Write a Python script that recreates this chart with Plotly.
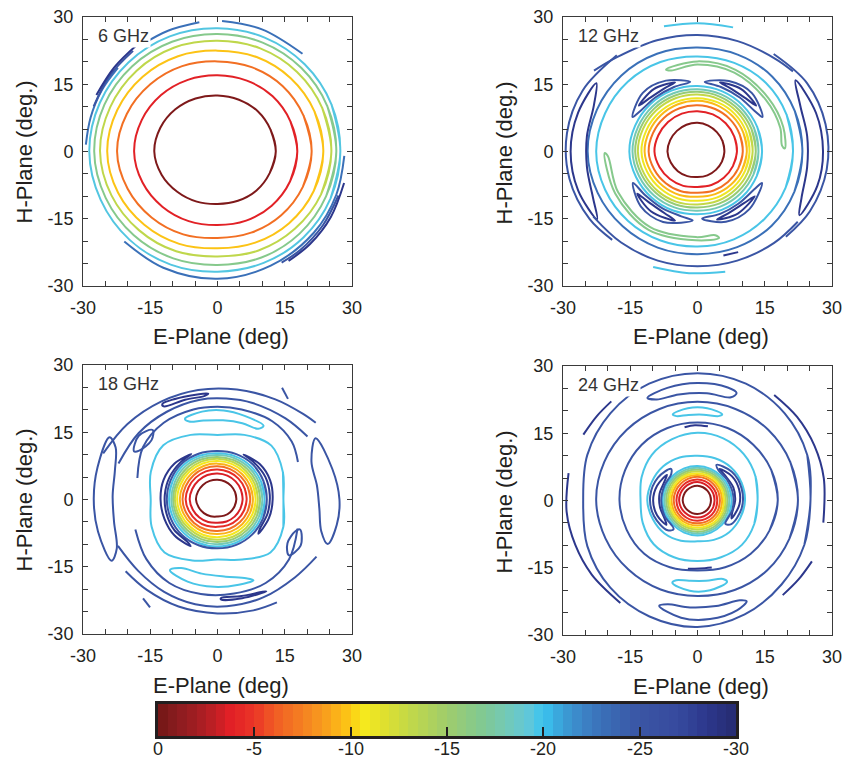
import numpy as np
import plotly.graph_objects as go

# ---------------- colour scale (dB -> colour) ----------------
CS_DB = [0, -1, -2, -3, -3.7, -5, -6, -7, -8, -9, -10, -10.6, -11.5, -13, -15, -17, -18,
         -19.2, -20, -21, -22, -23, -25, -27, -28.5, -30]
CS_HEX = ['#721616', '#8a1c1f', '#a21d22', '#c21f25', '#e11f26', '#eb3527', '#f05a24', '#f37423',
          '#f68d20', '#faa81a', '#fcca14', '#f8ea1c', '#e4e22a', '#c3d847', '#9fcc6c', '#7ec896',
          '#74c9b4', '#62c7d8', '#3ac4f0', '#3a9ed6', '#3d84c7', '#3a70b8', '#3a55a4', '#364a9e',
          '#2c378c', '#262b70']
CB_TICKS = [0, -5, -10, -15, -20, -25, -30]
CB_STEP = 0.5

PANEL_LABELS = ["6 GHz", "12 GHz", "18 GHz", "24 GHz"]
AXIS_TICKS = [-30, -15, 0, 15, 30]
AXIS_TICK_TEXT = ["-30", "-15", "0", "15", "30"]

# azimuths (deg) at which the radius of each closed contour was read
RING_ANGLES = [0, 22.5, 45, 67.5, 90, 112.5, 135, 157.5, 180, 202.5, 225, 247.5, 270, 292.5, 315, 337.5]

# ---------------- 6 GHz ----------------
R6_LEVELS = [-0.5, -3.8, -6.8, -9.8, -13.2, -16.5, -19.5]
R6_RADII = [
    [13.0, 12.8, 12.7, 12.5, 12.5, 12.8, 13.3, 13.8, 14.1, 13.5, 12.7, 12.1, 11.7, 11.9, 12.3, 12.6],
    [17.8, 17.6, 17.4, 17.1, 17.0, 17.3, 17.8, 18.3, 18.6, 18.1, 17.4, 16.8, 16.4, 16.7, 17.1, 17.5],
    [21.0, 20.8, 20.6, 20.3, 20.1, 20.6, 21.2, 21.9, 22.4, 21.7, 20.8, 20.0, 19.3, 19.6, 20.1, 20.6],
    [23.6, 23.4, 23.1, 22.8, 22.5, 23.0, 23.6, 24.2, 24.6, 24.0, 23.1, 22.3, 21.6, 22.0, 22.6, 23.2],
    [25.4, 25.3, 25.1, 24.9, 24.7, 25.1, 25.5, 25.9, 26.2, 25.6, 24.8, 24.1, 23.4, 23.9, 24.4, 25.0],
    [26.5, 26.5, 26.4, 26.3, 26.2, 26.5, 26.9, 27.3, 27.5, 27.0, 26.4, 25.8, 25.3, 25.6, 25.9, 26.2],
    [27.4, 27.5, 27.5, 27.5, 27.5, 27.8, 28.1, 28.4, 28.6, 28.2, 27.8, 27.3, 26.8, 26.9, 27.1, 27.3],
]
A6_LEVELS = [-23, -23, -23, -23, -25, -28.5, -25, -28.5]
A6_ANGLES = [
    [224, 245, 270, 295, 320, 340, 358],
    [88, 70, 49],
    [125, 112, 98],
    [177, 165, 152, 140],
    [160, 145, 130],
    [155, 141, 127],
    [-20, -35, -50, -60],
    [-14, -30, -45, -57],
]
A6_RADII = [
    [28.9, 28.6, 28.4, 28.1, 28.1, 28.2, 28.3],
    [29.1, 29.0, 28.9],
    [29.2, 29.1, 29.1],
    [29.4, 29.3, 29.2, 29.0],
    [29.4, 29.4, 29.3],
    [29.8, 29.7, 29.8],
    [28.7, 28.7, 28.7, 28.6],
    [29.1, 29.2, 29.2, 29.1],
]
L6_LEVELS, L6_ANGLES, L6_RADII = [], [], []

# ---------------- 12 GHz ----------------
R12_LEVELS = [-0.5, -3.8, -6.8, -9.5, -11, -13, -15.5, -18, -19.7, -19.7, -23]
R12_RADII = [
    [6.0, 6.05, 6.1, 6.25, 6.4, 6.45, 6.5, 6.6, 6.7, 6.45, 6.2, 5.95, 5.7, 5.75, 5.8, 5.9],
    [8.8, 8.85, 8.9, 8.95, 9.0, 9.15, 9.3, 9.45, 9.6, 9.15, 8.7, 8.3, 7.9, 8.1, 8.3, 8.55],
    [10.1, 10.15, 10.2, 10.25, 10.3, 10.45, 10.6, 10.75, 10.9, 10.45, 10.0, 9.6, 9.2, 9.4, 9.6, 9.85],
    [11.0, 11.05, 11.1, 11.2, 11.3, 11.4, 11.5, 11.65, 11.8, 11.35, 10.9, 10.5, 10.1, 10.3, 10.5, 10.75],
    [11.6, 11.7, 11.8, 11.85, 11.9, 12.05, 12.2, 12.35, 12.5, 12.1, 11.7, 11.35, 11.0, 11.15, 11.3, 11.45],
    [12.3, 12.4, 12.5, 12.6, 12.7, 12.85, 13.0, 13.15, 13.3, 12.9, 12.5, 12.15, 11.8, 11.9, 12.0, 12.15],
    [13.0, 13.05, 13.1, 13.2, 13.3, 13.45, 13.6, 13.75, 13.9, 13.5, 13.1, 12.8, 12.5, 12.6, 12.7, 12.85],
    [13.6, 13.65, 13.7, 13.8, 13.9, 14.05, 14.2, 14.35, 14.5, 14.15, 13.8, 13.5, 13.2, 13.3, 13.4, 13.5],
    [14.4, 14.4, 14.4, 14.5, 14.6, 14.75, 14.9, 15.05, 15.2, 14.85, 14.5, 14.25, 14.0, 14.1, 14.2, 14.3],
    [21.3, 21.5, 21.6, 21.4, 21.2, 21.6, 22.0, 22.3, 22.6, 22.3, 21.9, 21.5, 21.2, 21.2, 21.2, 21.25],
    [23.4, 23.5, 23.6, 23.4, 23.2, 23.6, 24.0, 24.3, 24.5, 24.1, 23.6, 23.2, 22.9, 23.1, 23.4, 23.4],
]
L12_LEVELS = [-25, -25, -25, -25, -28.5, -28.5, -28.5, -28.5, -16.5, -16.5, -28.5, -28.5]
L12_ANGLES = [
    [84, 66, 47, 28, 36, 52, 70],
    [96, 114, 133, 152, 144, 128, 110],
    [206, 224, 244, 266, 256, 238, 220],
    [274, 292, 312, 334, 326, 308, 290],
    [72, 55, 38, 48, 62],
    [108, 125, 142, 132, 118],
    [215, 232, 252, 242, 226],
    [286, 303, 322, 312, 296],
    [111, 90, 65, 37, 16, 2, 4, 16, 37, 65, 90, 108],
    [181, 207, 238, 269, 284, 282, 269, 238, 207, 183],
    [36, 18, 0, -16, -32, -24, -8, 8, 24],
    [146, 162, 180, 198, 214, 204, 188, 172, 156],
]
L12_RADII = [
    [15.6, 17.2, 17.8, 16.4, 15.6, 15.3, 15.3],
    [15.6, 17.3, 17.9, 16.4, 15.6, 15.3, 15.3],
    [16.0, 17.6, 17.5, 15.4, 14.9, 14.9, 15.2],
    [15.0, 16.9, 17.3, 16.0, 15.2, 14.8, 14.8],
    [16.2, 17.0, 16.6, 16.0, 15.9],
    [16.2, 17.0, 16.6, 16.0, 15.9],
    [16.4, 16.9, 16.2, 15.6, 15.7],
    [15.8, 16.5, 16.2, 15.5, 15.4],
    [19.6, 20.1, 20.1, 19.8, 19.9, 19.5, 18.9, 19.2, 19.1, 19.4, 19.4, 19.0],
    [20.7, 20.6, 20.6, 19.8, 19.9, 19.1, 19.1, 19.9, 19.9, 20.0],
    [27.0, 27.8, 28.0, 27.8, 26.8, 25.4, 24.7, 24.7, 25.1],
    [27.2, 28.0, 28.3, 28.0, 27.0, 25.5, 24.9, 24.9, 25.3],
]
A12_LEVELS = [-25, -25, -25, -25, -19.7, -19.7, -28.5]
A12_ANGLES = [
    [142, 130, 110, 90, 70, 50, 40],
    [212, 230, 250, 270, 290, 310, 325],
    [52, 32, 12, -8, -28, -44],
    [130, 152, 172, 192, 212, 226],
    [105, 90, 74],
    [249, 266, 283],
    [284, 292],
]
A12_RADII = [
    [29.3, 27.6, 26.4, 26.0, 26.2, 27.0, 27.8],
    [27.4, 26.5, 25.9, 25.6, 25.9, 26.6, 27.3],
    [27.6, 28.8, 29.2, 29.1, 28.4, 27.4],
    [28.0, 29.0, 29.4, 29.2, 28.4, 27.4],
    [28.9, 28.6, 28.8],
    [27.6, 27.2, 27.5],
    [23.9, 24.2],
]

# ---------------- 18 GHz ----------------
R18_LEVELS = [-0.5, -3.5, -4.5, -6.8, -9.3, -10.8, -13, -15.5, -18, -19.7, -25, -19.7]
R18_RADII = [
    [4.2, 4.25, 4.3, 4.35, 4.4, 4.5, 4.6, 4.7, 4.8, 4.55, 4.3, 4.05, 3.8, 3.9, 4.0, 4.1],
    [5.6, 5.65, 5.7, 5.75, 5.8, 5.9, 6.0, 6.1, 6.2, 5.95, 5.7, 5.45, 5.2, 5.3, 5.4, 5.5],
    [6.5, 6.55, 6.6, 6.65, 6.7, 6.8, 6.9, 7.0, 7.1, 6.85, 6.6, 6.35, 6.1, 6.2, 6.3, 6.4],
    [7.3, 7.3, 7.3, 7.35, 7.4, 7.5, 7.6, 7.7, 7.8, 7.6, 7.4, 7.2, 7.0, 7.05, 7.1, 7.2],
    [7.9, 7.9, 7.9, 7.95, 8.0, 8.1, 8.2, 8.3, 8.4, 8.2, 8.0, 7.85, 7.7, 7.75, 7.8, 7.85],
    [8.5, 8.5, 8.5, 8.55, 8.6, 8.7, 8.8, 8.9, 9.0, 8.8, 8.6, 8.5, 8.4, 8.4, 8.4, 8.45],
    [9.0, 9.0, 9.0, 9.05, 9.1, 9.2, 9.3, 9.4, 9.5, 9.3, 9.1, 9.05, 9.0, 9.0, 9.0, 9.0],
    [9.5, 9.5, 9.5, 9.5, 9.5, 9.65, 9.8, 9.85, 9.9, 9.75, 9.6, 9.55, 9.5, 9.5, 9.5, 9.5],
    [10.0, 10.0, 10.0, 9.95, 9.9, 10.1, 10.3, 10.3, 10.3, 10.2, 10.1, 10.05, 10.0, 10.0, 10.0, 10.0],
    [10.5, 10.5, 10.5, 10.4, 10.3, 10.55, 10.8, 10.8, 10.8, 10.7, 10.6, 10.55, 10.5, 10.5, 10.5, 10.5],
    [11.0, 11.05, 11.1, 10.95, 10.8, 11.05, 11.3, 11.3, 11.3, 11.25, 11.2, 11.05, 10.9, 10.95, 11.0, 11.0],
    [14.7, 15.8, 17.0, 15.6, 14.4, 15.6, 17.1, 16.1, 14.9, 15.9, 16.7, 14.7, 13.4, 14.5, 16.7, 15.9],
]
L18_LEVELS = [-28.5, -28.5, -19.7, -19.7, -28.5, -28.5, -25, -25, -25, -25]
L18_ANGLES = [
    [60, 40, 20, 0, -20, -40, -35, -15, 5, 25, 45],
    [120, 140, 160, 180, 200, 220, 240, 235, 215, 195, 175, 155, 135],
    [112, 100, 86, 72, 58, 60, 72, 86, 100, 110],
    [236, 250, 268, 284, 294, 290, 276, 258, 242],
    [120, 108, 95, 97, 108, 120],
    [272, 284, 298, 296, 284, 272],
    [150, 165, 180, 195, 210, 206, 192, 178, 164, 153],
    [32, 15, 0, -12, -22, -17, -5, 8, 22],
    [150, 141, 133, 138, 148],
    [-20, -29, -38, -32, -22],
]
L18_RADII = [
    [11.6, 12.3, 12.5, 12.3, 12.2, 11.9, 11.5, 11.6, 11.7, 11.8, 11.6],
    [11.7, 12.5, 12.8, 12.7, 12.6, 12.5, 12.0, 11.6, 11.8, 11.8, 11.8, 11.8, 11.7],
    [19.4, 19.9, 19.9, 19.6, 19.4, 18.2, 17.9, 17.7, 17.9, 18.5],
    [19.0, 19.5, 19.5, 19.6, 19.7, 18.7, 17.3, 16.9, 17.3],
    [24.6, 24.1, 23.7, 23.3, 23.4, 24.0],
    [22.3, 22.7, 23.2, 22.9, 22.2, 22.0],
    [27.8, 27.7, 27.6, 27.6, 27.3, 25.0, 23.6, 23.4, 23.8, 25.5],
    [25.8, 26.5, 27.2, 27.2, 26.5, 24.2, 22.8, 22.4, 22.6],
    [21.5, 22.6, 21.2, 19.8, 20.6],
    [19.6, 21.2, 20.2, 18.4, 18.8],
]
A18_LEVELS = [-25, -25, -25, -25, -25, -25, -25, -25]
A18_ANGLES = [
    [165, 145, 125, 105, 90, 75, 55, 38, 25],
    [160, 140, 120, 100, 85, 70, 50, 35],
    [158, 140, 120, 100, 80, 60, 45, 38],
    [200, 220, 240, 260, 280, 300, 320, 340],
    [205, 222, 240, 258, 275, 295, 315, 330],
    [218, 232, 250, 270, 288, 300],
    [60, 55],
    [233, 238],
]
A18_RADII = [
    [18.5, 20.3, 20.9, 20.8, 20.7, 20.8, 21.3, 21.0, 19.8],
    [23.5, 23.0, 22.6, 22.6, 22.6, 22.9, 23.6, 24.5],
    [27.5, 26.2, 25.2, 24.8, 24.9, 25.8, 27.0, 27.8],
    [19.5, 20.7, 21.5, 21.4, 21.3, 21.5, 20.8, 19.0],
    [24.5, 23.8, 23.8, 23.9, 23.9, 24.1, 24.5, 25.5],
    [26.0, 25.6, 25.4, 25.4, 26.0, 26.5],
    [28.8, 27.4],
    [27.6, 28.4],
]

# ---------------- 24 GHz ----------------
R24_LEVELS = [-0.5, -3.5, -4.5, -6.8, -9.3, -10.8, -13, -15.5, -18, -19.7, -19.7, -19.7, -25, -25, -25]
R24_RADII = [
    [3.0, 3.05, 3.1, 3.2, 3.3, 3.3, 3.3, 3.3, 3.3, 3.2, 3.1, 3.05, 3.0, 3.0, 3.0, 3.0],
    [3.8, 3.85, 3.9, 4.0, 4.1, 4.1, 4.1, 4.1, 4.1, 4.0, 3.9, 3.85, 3.8, 3.8, 3.8, 3.8],
    [4.4, 4.45, 4.5, 4.6, 4.7, 4.7, 4.7, 4.7, 4.7, 4.65, 4.6, 4.55, 4.5, 4.5, 4.5, 4.45],
    [5.0, 5.05, 5.1, 5.2, 5.3, 5.3, 5.3, 5.3, 5.3, 5.25, 5.2, 5.15, 5.1, 5.1, 5.1, 5.05],
    [5.5, 5.55, 5.6, 5.65, 5.7, 5.75, 5.8, 5.8, 5.8, 5.75, 5.7, 5.65, 5.6, 5.6, 5.6, 5.55],
    [5.9, 5.95, 6.0, 6.05, 6.1, 6.15, 6.2, 6.2, 6.2, 6.15, 6.1, 6.1, 6.1, 6.1, 6.1, 6.0],
    [6.3, 6.35, 6.4, 6.45, 6.5, 6.55, 6.6, 6.6, 6.6, 6.55, 6.5, 6.5, 6.5, 6.5, 6.5, 6.4],
    [6.7, 6.75, 6.8, 6.85, 6.9, 6.95, 7.0, 7.0, 7.0, 6.95, 6.9, 6.95, 7.0, 6.95, 6.9, 6.8],
    [7.1, 7.15, 7.2, 7.25, 7.3, 7.35, 7.4, 7.4, 7.4, 7.35, 7.3, 7.35, 7.4, 7.35, 7.3, 7.2],
    [7.6, 7.6, 7.6, 7.65, 7.7, 7.75, 7.8, 7.8, 7.8, 7.75, 7.7, 7.75, 7.8, 7.75, 7.7, 7.65],
    [10.6, 10.6, 10.5, 10.2, 10.0, 10.4, 10.8, 11.0, 11.2, 10.8, 10.4, 9.7, 9.1, 9.5, 10.0, 10.3],
    [13.4, 14.0, 14.6, 15.0, 15.1, 14.8, 14.4, 13.5, 12.7, 13.2, 13.8, 13.7, 13.5, 13.7, 14.0, 13.7],
    [17.9, 17.8, 17.6, 17.5, 17.4, 17.5, 17.6, 17.5, 17.4, 17.1, 16.8, 16.1, 15.6, 16.1, 16.8, 17.4],
    [22.4, 22.4, 22.3, 22.1, 22.0, 22.1, 22.3, 22.5, 22.6, 22.2, 21.8, 21.5, 21.3, 21.6, 22.0, 22.2],
    [25.2, 26.5, 27.5, 28.2, 28.4, 28.2, 27.5, 26.6, 25.5, 26.6, 27.5, 28.0, 28.2, 27.5, 26.5, 25.8],
]
L24_LEVELS = [-28.5, -28.5, -25, -25, -19.7, -19.7, -25, -25]
L24_ANGLES = [
    [140, 160, 180, 200, 218, 210, 190, 170, 150],
    [55, 35, 15, -5, -28, -20, 0, 20, 40],
    [130, 150, 175, 200, 225, 230, 205, 180, 155, 135],
    [62, 40, 15, -10, -35, -40, -15, 10, 35, 55],
    [106, 96, 84, 74, 76, 86, 96, 104],
    [253, 265, 278, 290, 288, 276, 264, 255],
    [116, 105, 90, 75, 70, 72, 85, 100, 112],
    [250, 262, 276, 290, 296, 293, 280, 266, 254],
]
L24_RADII = [
    [8.9, 9.6, 9.9, 9.6, 8.8, 8.4, 8.5, 8.6, 8.5],
    [8.6, 9.4, 9.6, 9.4, 8.6, 8.2, 8.4, 8.5, 8.3],
    [9.2, 10.2, 10.6, 10.3, 9.4, 8.3, 8.1, 8.1, 8.1, 8.3],
    [9.0, 10.0, 10.2, 10.0, 9.2, 8.1, 8.05, 8.05, 8.05, 8.2],
    [20.0, 20.7, 20.7, 20.0, 19.4, 19.2, 19.2, 19.4],
    [19.2, 20.2, 20.2, 19.3, 18.4, 18.0, 18.0, 18.4],
    [25.5, 26.0, 26.2, 26.1, 25.5, 24.2, 24.0, 24.0, 24.3],
    [25.0, 26.4, 26.6, 26.0, 25.0, 24.2, 23.9, 23.9, 24.1],
]
A24_LEVELS = [-28.5, -28.5, -28.5, -28.5, -28.5, -28.5]
A24_ANGLES = [
    [168, 185, 200, 215, 233],
    [150, 140, 131],
    [54, 40, 25, 10, -10],
    [-48, -38, -28],
    [100, 92, 82],
    [262, 272, 282],
]
A24_RADII = [
    [29.4, 29.3, 29.0, 28.8, 28.6],
    [29.4, 29.3, 29.3],
    [29.1, 29.0, 28.8, 28.6, 28.5],
    [28.4, 28.6, 28.9],
    [16.6, 16.8, 16.7],
    [15.4, 15.2, 15.3],
]

PANELS = [
    (R6_LEVELS, R6_RADII, L6_LEVELS, L6_ANGLES, L6_RADII, A6_LEVELS, A6_ANGLES, A6_RADII),
    (R12_LEVELS, R12_RADII, L12_LEVELS, L12_ANGLES, L12_RADII, A12_LEVELS, A12_ANGLES, A12_RADII),
    (R18_LEVELS, R18_RADII, L18_LEVELS, L18_ANGLES, L18_RADII, A18_LEVELS, A18_ANGLES, A18_RADII),
    (R24_LEVELS, R24_RADII, L24_LEVELS, L24_ANGLES, L24_RADII, A24_LEVELS, A24_ANGLES, A24_RADII),
]

# ---------------- helpers ----------------
def hex_rgb(h):
    return [int(h[i:i + 2], 16) for i in (1, 3, 5)]

_asc_db = CS_DB[::-1]
_asc_rgb = np.array([hex_rgb(h) for h in CS_HEX[::-1]], float)


def level_color(db):
    r, g, b = (np.interp(db, _asc_db, _asc_rgb[:, k]) for k in range(3))
    return f"rgb({int(round(r))},{int(round(g))},{int(round(b))})"


def polar_xy(angles, radii, mode):
    a = np.radians(np.asarray(angles, float))
    r = np.asarray(radii, float)
    x, y = r * np.cos(a), r * np.sin(a)
    if mode == "ring":      # smooth closure: wrap neighbours around the start
        x = np.concatenate([x[-1:], x, x[:2]])
        y = np.concatenate([y[-1:], y, y[:2]])
    elif mode == "loop":    # closure at a tip of the shape
        x = np.concatenate([x, x[:1]])
        y = np.concatenate([y, y[:1]])
    return x, y


W, H = 843, 759
# plot areas in pixels (left, top, right, bottom)
BOXES = [(83, 17, 352, 286), (563, 17, 832, 286), (83, 365, 352, 634), (563, 366, 832, 635)]
CB_BOX = (158, 704, 736, 736)
FONT = "Liberation Sans, Arial, Helvetica, sans-serif"
INK = "#231f20"

fig = go.Figure()

for i, (rl, rr, ll, la, lr, al, aa, ar) in enumerate(PANELS):
    xa = "x" if i == 0 else f"x{i + 1}"
    ya = "y" if i == 0 else f"y{i + 1}"
    paths = []
    for lev, rad in zip(rl, rr):
        paths.append((lev, RING_ANGLES, rad, "ring"))
    for lev, ang, rad in zip(ll, la, lr):
        paths.append((lev, ang, rad, "loop"))
    for lev, ang, rad in zip(al, aa, ar):
        paths.append((lev, ang, rad, "arc"))
    for lev, ang, rad, mode in paths:
        x, y = polar_xy(ang, rad, mode)
        fig.add_trace(go.Scatter(
            x=x, y=y, mode="lines", xaxis=xa, yaxis=ya,
            line=dict(color=level_color(lev), width=2, shape="spline", smoothing=1.0),
            hoverinfo="skip", showlegend=False))

# colour bar drawn as a one-row heatmap
cb_x = np.arange(-CB_STEP / 2, CB_TICKS[-1], -CB_STEP)
cscale = [[(d - CB_TICKS[-1]) / (0 - CB_TICKS[-1]), h] for d, h in zip(_asc_db, CS_HEX[::-1])]
fig.add_trace(go.Heatmap(
    x=cb_x, y=[0], z=[cb_x], colorscale=cscale, zmin=CB_TICKS[-1], zmax=0,
    showscale=False, xaxis="x5", yaxis="y5", hoverinfo="skip"))

layout = dict(
    width=W, height=H, margin=dict(l=0, r=0, t=0, b=0, autoexpand=False),
    paper_bgcolor="white", plot_bgcolor="white", showlegend=False,
    font=dict(family=FONT, color=INK),
)
axis_common = dict(
    range=[-30, 30], tickvals=AXIS_TICKS, ticktext=AXIS_TICK_TEXT, ticks="inside", ticklen=5,
    tickwidth=1, tickcolor="#3a3a3a", showline=True, linecolor="#3a3a3a", linewidth=1,
    mirror="allticks", showgrid=False, zeroline=False, automargin=False,
    minor=dict(ticks="inside", dtick=5, ticklen=5, tickwidth=1, tickcolor="#3a3a3a", showgrid=False),
    tickfont=dict(family=FONT, size=18, color=INK), ticklabelstandoff=5,
)
annotations = []
for i, (l, t, r, b) in enumerate(BOXES):
    sfx = "" if i == 0 else str(i + 1)
    layout["xaxis" + sfx] = dict(axis_common, domain=[l / W, r / W], anchor="y" + sfx)
    layout["yaxis" + sfx] = dict(axis_common, domain=[1 - b / H, 1 - t / H], anchor="x" + sfx)
    annotations.append(dict(
        text=PANEL_LABELS[i], x=-27.2, y=25.8, xref="x" + sfx, yref="y" + sfx,
        xanchor="left", yanchor="middle", showarrow=False, bgcolor="white", borderpad=1,
        font=dict(family=FONT, size=18, color="#333333")))
    cx = (l + r) / 2
    annotations.append(dict(
        text="E-Plane (deg)", x=(cx + 3) / W, y=1 - (b + 51) / H, xref="paper", yref="paper",
        xanchor="center", yanchor="middle", showarrow=False,
        font=dict(family=FONT, size=22, color=INK)))
    annotations.append(dict(
        text="H-Plane (deg.)", x=(l - 59) / W, y=1 - ((t + b) / 2 + 1) / H, xref="paper", yref="paper",
        xanchor="center", yanchor="middle", showarrow=False, textangle=-90,
        font=dict(family=FONT, size=22, color=INK)))

# colour-bar tick labels (placed just under the bar)
for v in CB_TICKS:
    annotations.append(dict(
        text=str(v), x=v, y=1 - (CB_BOX[3] + 13) / H, xref="x5", yref="paper",
        xanchor="center", yanchor="middle", showarrow=False,
        font=dict(family=FONT, size=18, color=INK)))

layout["xaxis5"] = dict(
    domain=[CB_BOX[0] / W, CB_BOX[2] / W], anchor="y5", range=[0, CB_TICKS[-1]], automargin=False,
    tickvals=CB_TICKS, showticklabels=False, ticks="inside", ticklen=9,
    tickwidth=2, tickcolor=INK, showline=True, linecolor=INK, linewidth=2.5, mirror=True,
    showgrid=False, zeroline=False)
layout["yaxis5"] = dict(
    domain=[1 - CB_BOX[3] / H, 1 - CB_BOX[1] / H], anchor="x5", range=[-0.5, 0.5],
    showticklabels=False, ticks="", showline=True, linecolor=INK, linewidth=2.5, mirror=True,
    showgrid=False, zeroline=False, automargin=False)
layout["annotations"] = annotations
fig.update_layout(**layout)

fig.write_html("out.html")
